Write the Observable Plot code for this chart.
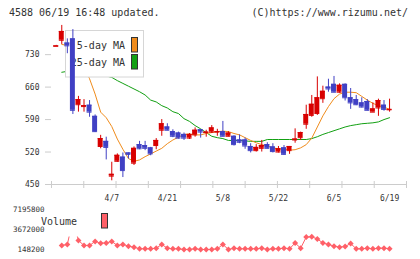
<!DOCTYPE html>
<html><head><meta charset="utf-8">
<script src="https://cdn.jsdelivr.net/npm/d3@7"></script>
<script src="https://cdn.jsdelivr.net/npm/@observablehq/plot@0.6"></script>
<style>
html,body{margin:0;padding:0;background:#fff;}
#chart{position:relative;width:420px;height:259px;overflow:hidden;font-family:"DejaVu Sans Mono",monospace;color:#333;}
#hdrL{position:absolute;left:9px;top:7px;font-size:10px;line-height:12px;white-space:nowrap;}
#hdrR{position:absolute;right:12px;top:7px;font-size:10px;line-height:12px;white-space:nowrap;}
#price{position:absolute;left:0;top:0;}
#vol{position:absolute;left:0;top:200px;}
</style></head><body>
<div id="chart"><div id="hdrL"></div><div id="hdrR"></div><div id="price"></div><div id="vol"></div></div>
<script>
// ---- text ----
const headerLeft = "4588 06/19 16:48 updated.";
const headerRight = "(C)https://www.rizumu.net/";
const maLabels = ["5-day MA", "25-day MA"];
const volLabel = "Volume";

// ---- price data (61 trading days, 3/24 .. 6/19) ----
const openP  = [748,761,755,764,622,618,621,597,532,543, 468,500,509,518,496,536,534,529,534,567, 574,564,561,558,550,557,568,562,563,563, 564,554,554,546,546,532,523,528,536,531, 520,529,523,546,551,580,599,603,635,660, 666,649,666,637,633,626,629,606,615,621,611];
const highP  = [750,793,764,784,640,633,631,600,556,552, 498,516,518,518,531,543,543,530,549,590, 581,568,563,561,560,572,568,567,577,569, 586,564,555,557,550,538,536,545,540,538, 532,534,532,570,563,621,642,682,662,677, 683,667,667,657,642,637,633,626,634,631,634];
const lowP   = [748,752,732,601,606,606,595,562,527,503, 458,498,465,505,491,525,523,512,525,554, 566,551,548,545,547,552,550,552,560,554, 553,553,533,538,526,518,520,520,527,518, 518,513,515,539,545,569,595,599,625,649, 648,647,630,612,620,615,609,606,597,608,606];
const closeP = [749,780,749,610,633,620,606,564,549,530, 472,513,480,515,528,527,528,516,545,581, 567,554,550,550,558,567,563,563,572,564, 554,561,536,541,533,523,530,534,528,521, 527,515,532,548,562,601,623,637,651,656, 649,664,637,626,622,617,610,613,631,612,612];

// moving averages
const ma5  = [null,752,750,745,730,704,678,645,606,594, 575,548,526,506,500,503,510,516,522,528, 538,546,552,558,559,557,557,560,562,564, 565,564,560,557,551,545,540,536,533,529, 527,526,524,525,529,536,550,574,598,618, 635,645,649,649,648,640,632,625,620,617,612];
const ma25 = [null,692,694,695,694,693,691,689,687,684, 681,674,668,662,656,650,643,632,628,620, 615,607,603,592,586,577,570,562,554,551, 549,545,545,545,544,543,543,543,547,547, 547,547,547,547,547,547,549,553,558,562, 566,570,574,577,579,581,582,583,585,590,594];

// volume
const volume = [null,858000,1040000,5400000,1750000,858000,858000,1570000,1270000,1300000, 1570000,858000,1040000,740000,560000,270000,270000,270000,380000,1040000, 380000,270000,270000,150000,150000,270000,150000,150000,150000,270000, 1040000,150000,380000,270000,270000,270000,270000,380000,150000,270000, 270000,380000,270000,1300000,380000,2330000,2400000,2000000,1300000,1040000, 740000,560000,680000,1200000,270000,270000,380000,270000,380000,380000,270000];

// axes
const yTicks = [450, 520, 590, 660, 730];
const yTop = 795;
const volTicks = [148200, 3672000, 7195800];
const dateIdx = [10, 20, 30, 40, 50, 60];
const dateLabels = ["4/7", "4/21", "5/8", "5/22", "6/5", "6/19"];
const xDomain = [-0.85, 63.05];
const gridCount = 11;

// colours
const upColor = "#d80000", downColor = "#4040c4";
const ma5Color = "#f08c1c", ma25Color = "#12a012";
const volColor = "#ff6068";
const gray = "#cccccc", textColor = "#333";

document.getElementById("hdrL").textContent = headerLeft;
document.getElementById("hdrR").textContent = headerRight;

const candles = closeP.map((c, i) => ({i, open: openP[i], high: highP[i], low: lowP[i], close: c, up: c >= openP[i]}));
const ma5Data = ma5.map((v, i) => ({i, v})).filter(d => d.v != null);
const ma25Data = ma25.map((v, i) => ({i, v})).filter(d => d.v != null);
const volData = volume.map((v, i) => ({i, v})).filter(d => d.v != null);
const gridTicks = d3.range(gridCount + 1).map(k => xDomain[0] + k * (xDomain[1] - xDomain[0]) / gridCount);
const col = d => d.up ? upColor : downColor;

function priceLegend() {
  const g = d3.create("svg:g");
  g.append("rect").attr("x", 65.5).attr("y", 30.5).attr("width", 78).attr("height", 46.5)
    .attr("fill", "white").attr("stroke", "#d6d6d6");
  [ma5Color, ma25Color].forEach((c, k) => {
    g.append("text").attr("x", 125).attr("y", 45.5 + k * 17).attr("dy", "0.35em")
      .attr("text-anchor", "end").attr("font-size", 10).attr("fill", textColor).text(maLabels[k]);
    g.append("rect").attr("x", 131.5).attr("y", 37.5 + k * 17).attr("width", 6).attr("height", 14.5)
      .attr("fill", c).attr("stroke", "#333");
  });
  return g.node();
}

function volLegend() {
  const g = d3.create("svg:g");
  g.append("rect").attr("x", 55).attr("y", 9).attr("width", 58).attr("height", 27.5).attr("fill", "white");
  g.append("text").attr("x", 59).attr("y", 21.7).attr("dy", "0.35em").attr("font-size", 10)
    .attr("fill", textColor).text(volLabel);
  g.append("rect").attr("x", 101.5).attr("y", 13.5).attr("width", 6).attr("height", 14.5)
    .attr("fill", volColor).attr("stroke", "#333");
  return g.node();
}

const price = Plot.plot({
  width: 420, height: 205,
  marginLeft: 51, marginRight: 14, marginTop: 24, marginBottom: 21,
  style: {fontFamily: "'DejaVu Sans Mono', monospace", fontSize: "8px", background: "transparent", color: textColor},
  x: {type: "linear", domain: xDomain, axis: null},
  y: {type: "linear", domain: [yTicks[0], yTop], axis: null},
  marks: [
    Plot.axisY({ticks: yTicks, tickSize: 6, tickPadding: 6, stroke: gray, fill: textColor, line: true, label: null, tickFormat: d => String(d)}),
    Plot.axisX({ticks: gridTicks, tickSize: 7, dy: -3, stroke: gray, tickFormat: () => "", label: null}),
    Plot.axisX({ticks: dateIdx, tickSize: 0, tickPadding: 11, fill: textColor, label: null, tickFormat: d => dateLabels[dateIdx.indexOf(d)]}),
    Plot.ruleY([yTicks[0]], {stroke: gray}),
    Plot.line(ma25Data, {x: "i", y: "v", stroke: ma25Color, strokeWidth: 1}),
    Plot.line(ma5Data, {x: "i", y: "v", stroke: ma5Color, strokeWidth: 1}),
    priceLegend,
    Plot.ruleX(candles, {x: "i", y1: "low", y2: "high", stroke: col, strokeWidth: 1}),
    Plot.rect(candles, {x1: d => d.i - 0.5, x2: d => d.i + 0.5, y1: "open", y2: "close", fill: col, insetLeft: 0.3, insetRight: 0.3}),
    Plot.ruleY(candles, {y: "close", x1: d => d.i - 0.5, x2: d => d.i + 0.5, stroke: col, insetLeft: 0.3, insetRight: 0.3}),
    Plot.ruleY(candles, {y: "open", x1: d => d.i - 0.5, x2: d => d.i + 0.5, stroke: col, insetLeft: 0.3, insetRight: 0.3})
  ]
});
document.getElementById("price").appendChild(price);

const vol = Plot.plot({
  width: 420, height: 59,
  marginLeft: 51, marginRight: 14, marginTop: 9, marginBottom: 10,
  style: {fontFamily: "'DejaVu Sans Mono', monospace", fontSize: "7.5px", background: "transparent", color: textColor},
  x: {type: "linear", domain: xDomain, axis: null},
  y: {type: "linear", domain: [volTicks[0], volTicks[volTicks.length - 1]], axis: null},
  marks: [
    Plot.axisY({ticks: volTicks, tickSize: 0, tickPadding: 7, fill: textColor, label: null, tickFormat: d => String(d)}),
    Plot.line(volData, {x: "i", y: "v", stroke: volColor, strokeWidth: 1}),
    Plot.dot(volData, {x: "i", y: "v", symbol: "diamond2", r: 2.7, fill: volColor, stroke: null}),
    volLegend
  ]
});
document.getElementById("vol").appendChild(vol);
</script>
</body></html>
